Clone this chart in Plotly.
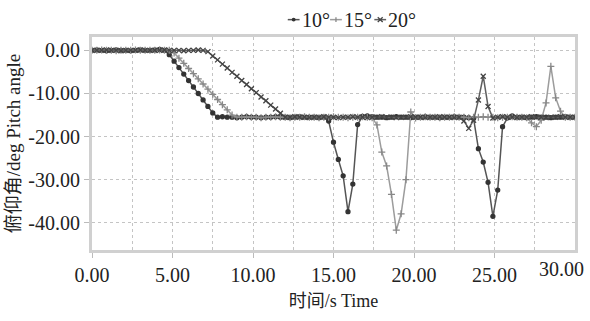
import plotly.graph_objects as go

time_s = [0.0, 0.3, 0.6, 0.9, 1.2, 1.5, 1.8, 2.1, 2.4, 2.7,
          3.0, 3.3, 3.6, 3.9, 4.2, 4.5, 4.8, 5.1, 5.4, 5.7,
          6.0, 6.3, 6.6, 6.9, 7.2, 7.5, 7.8, 8.1, 8.4, 8.7,
          9.0, 9.3, 9.6, 9.9, 10.2, 10.5, 10.8, 11.1, 11.4, 11.7,
          12.0, 12.3, 12.6, 12.9, 13.2, 13.5, 13.8, 14.1, 14.4, 14.7,
          15.0, 15.3, 15.6, 15.9, 16.2, 16.5, 16.8, 17.1, 17.4, 17.7,
          18.0, 18.3, 18.6, 18.9, 19.2, 19.5, 19.8, 20.1, 20.4, 20.7,
          21.0, 21.3, 21.6, 21.9, 22.2, 22.5, 22.8, 23.1, 23.4, 23.7,
          24.0, 24.3, 24.6, 24.9, 25.2, 25.5, 25.8, 26.1, 26.4, 26.7,
          27.0, 27.3, 27.6, 27.9, 28.2, 28.5, 28.8, 29.1, 29.4, 29.7,
          30.0]

pitch_10 = [0.0, 0.1, 0.0, -0.1, 0.0, 0.1, 0.0, 0.0, -0.1, 0.0, 0.1, 0.0, 0.0, 0.1, 0.2, 0.0,
            -1.0, -2.5, -4.0, -5.5, -7.0, -8.5, -10.0, -11.5, -13.0, -14.5, -15.5,
            -15.4, -15.5, -15.5, -15.6, -15.5, -15.4, -15.5, -15.5, -15.6, -15.5, -15.5,
            -15.4, -15.5, -15.5, -15.6, -15.5, -15.4, -15.5, -15.5, -15.5, -15.6, -15.5,
            -16.4, -21.3, -25.3, -29.1, -37.4, -31.0, -17.2, -15.3,
            -15.2, -15.4, -15.5, -15.5, -15.6, -15.5, -15.4, -15.5, -15.5, -15.6, -15.5,
            -15.5, -15.4, -15.5, -15.5, -15.6, -15.5, -15.5, -15.4, -15.5, -15.5, -15.6,
            -15.8, -22.8, -25.9, -30.6, -38.5, -32.4, -17.7, -15.7,
            -15.2, -15.5, -15.5, -15.6, -15.5, -15.4, -15.5, -15.5, -15.6, -15.5, -15.5,
            -15.4, -15.5, -15.5]

pitch_15 = [0.0, 0.0, 0.1, 0.0, 0.0, -0.1, 0.0, 0.0, 0.0, 0.1, 0.0, 0.0, 0.0, 0.0, 0.1, 0.0, 0.0,
            -0.6, -1.8, -3.0, -4.2, -5.4, -6.6, -7.8, -9.0, -10.2, -11.4, -12.6, -13.8, -15.0, -15.5,
            -15.5, -15.4, -15.5, -15.5, -15.6, -15.5, -15.5, -15.4, -15.5, -15.5,
            -15.6, -15.5, -15.5, -15.4, -15.5, -15.5, -15.6, -15.5, -15.5, -15.4,
            -15.5, -15.5, -15.6, -15.5, -15.5, -15.4, -15.5,
            -15.6, -17.3, -23.6, -26.8, -33.4, -41.7, -37.9, -30.0, -14.3, -15.7,
            -15.5, -15.4, -15.5, -15.5, -15.6, -15.5, -15.5, -15.4, -15.5, -15.5,
            -15.6, -15.5, -15.5, -15.4, -15.5, -15.5, -15.6, -15.5, -15.5, -15.4,
            -15.5, -15.5, -15.6,
            -16.8, -17.7, -16.2, -12.2, -3.7, -11.0, -14.1, -15.5,
            -15.5, -15.5]

pitch_20 = [0.0, 0.0, 0.0, 0.1, 0.0, 0.0, -0.1, 0.0, 0.0, 0.0, 0.1, 0.0,
            0.0, 0.0, 0.0, 0.1, 0.0, 0.0, 0.0, -0.1, 0.0, 0.0, 0.1, 0.0,
            -0.3, -1.3, -2.2, -3.2, -4.1, -5.1, -6.0, -7.0, -7.9, -8.9, -9.8,
            -10.8, -11.7, -12.7, -13.6, -14.6, -15.5,
            -15.5, -15.4, -15.5, -15.5, -15.6, -15.5, -15.5, -15.4, -15.5, -15.5,
            -15.6, -15.5, -15.5, -15.4, -15.5, -15.5, -15.6, -15.5, -15.5, -15.4,
            -15.5, -15.5, -15.6, -15.5, -15.5, -15.4, -15.5, -15.5, -15.6, -15.5,
            -15.5, -15.4, -15.5, -15.5, -15.6, -15.5,
            -16.4, -18.1, -16.2, -11.5, -6.0, -13.0, -15.7,
            -15.5, -15.4, -15.5, -15.5, -15.6, -15.5, -15.5, -15.4, -15.5, -15.5,
            -15.6, -15.5, -15.5, -15.4, -15.5, -15.5, -15.5]

assert len(time_s) == len(pitch_10) == len(pitch_15) == len(pitch_20) == 101

names = ["10°", "15°", "20°"]
x_ticks = [0, 5, 10, 15, 20, 25]
x_tick_text = ["0.00", "5.00", "10.00", "15.00", "20.00", "25.00"]
y_ticks = [0, -10, -20, -30, -40]
y_tick_text = ["0.00", "-10.00", "-20.00", "-30.00", "-40.00"]

SERIF = "Liberation Serif, Times New Roman, Noto Sans CJK SC, serif"
TXT = "#222222"

W, H = 590, 321
ML, MR, MT, MB = 87, 12, 37, 51
PW, PH = W - ML - MR, H - MT - MB


def px(X):
    return (X - ML) / PW


def py(Y):
    return (H - MB - Y) / PH


line_cols = ["#555555", "#9c9c9c", "#5f5f5f"]
mark_cols = ["#333333", "#888888", "#444444"]
symbols = ["circle", "cross-thin", "x-thin"]

fig = go.Figure()
for i, (name, ys) in enumerate(zip(names, [pitch_10, pitch_15, pitch_20])):
    fig.add_trace(go.Scatter(
        x=time_s, y=ys, mode="lines+markers", name=name, showlegend=False,
        line=dict(color=line_cols[i], width=1.5),
        marker=dict(symbol=symbols[i], size=4 if i == 0 else 5, color=mark_cols[i],
                    line=dict(width=1.3, color=mark_cols[i])),
    ))

axis_common = dict(
    showline=True, mirror=True, linecolor="#d0d0d0", linewidth=3,
    showgrid=True, gridcolor="#c4c4c4", griddash="dot", gridwidth=1,
    zeroline=False, ticks="outside", ticklen=5, tickcolor="#bbbbbb",
    tickfont=dict(family=SERIF, size=20, color=TXT),
)

fig.update_xaxes(range=[0, 30], tickvals=x_ticks, ticktext=x_tick_text,
                 title=dict(text="时间/s Time", font=dict(family=SERIF, size=18, color=TXT), standoff=10),
                 minor=dict(dtick=2.5, showgrid=True, gridcolor="#c4c4c4", griddash="dot", ticks="", tick0=0),
                 **axis_common)
fig.update_yaxes(range=[-46.3, 3.1], tickvals=y_ticks, ticktext=y_tick_text,
                 title=dict(text="俯仰角/deg Pitch angle", font=dict(family=SERIF, size=19, color=TXT), standoff=3),
                 **axis_common)

# last x tick label, shifted inside the page like the reference
fig.add_annotation(text="30.00", xref="paper", yref="paper", x=px(589), y=0, xanchor="right", yanchor="top",
                   yshift=-6, showarrow=False, font=dict(family=SERIF, size=20, color=TXT))

# compact legend on top
leg_y = py(18)
leg_sym_x = [292, 335, 380]
leg_txt_x = [298, 341, 386]
for i, name in enumerate(names):
    cx = leg_sym_x[i]
    fig.add_shape(type="line", xref="paper", yref="paper", x0=px(cx - 6), x1=px(cx + 6), y0=leg_y, y1=leg_y,
                  line=dict(color=line_cols[i], width=1.5))
    if i == 0:
        fig.add_shape(type="circle", xref="paper", yref="paper", x0=px(cx - 2), x1=px(cx + 2),
                      y0=py(18 + 2), y1=py(18 - 2), fillcolor=mark_cols[i], line=dict(width=0))
    elif i == 1:
        fig.add_shape(type="line", xref="paper", yref="paper", x0=px(cx), x1=px(cx), y0=py(15.5), y1=py(20.5),
                      line=dict(color=mark_cols[i], width=1.3))
    else:
        for d in (1, -1):
            fig.add_shape(type="line", xref="paper", yref="paper", x0=px(cx - 2.5), x1=px(cx + 2.5),
                          y0=py(18 - 2.5 * d), y1=py(18 + 2.5 * d), line=dict(color=mark_cols[i], width=1.3))
    fig.add_annotation(text=name, xref="paper", yref="paper", x=px(leg_txt_x[i]), y=leg_y,
                       xanchor="left", yanchor="middle", showarrow=False,
                       font=dict(family=SERIF, size=20, color=TXT))

fig.update_layout(
    width=W, height=H,
    margin=dict(l=ML, r=MR, t=MT, b=MB),
    paper_bgcolor="white", plot_bgcolor="white",
    showlegend=False,
)

fig.write_html("out.html")
